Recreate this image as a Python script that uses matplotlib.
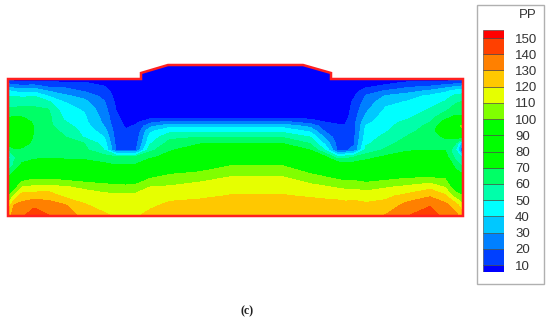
import numpy as np
import matplotlib
matplotlib.use("Agg")
import matplotlib.pyplot as plt
from matplotlib.patches import Polygon, Rectangle

# Section outline, in image pixels
outline = [(8,79),(141,79),(141,73),(168,65),(303,65),(331,73),(331,79),(463,79),(463,216),(8,216)]

# PP readings, one list per column; entries follow grid_y
grid_x = [8,14,22,34,48,64,84,104,116,126,136,150,170,200,235,280,310,325,337,345,354,366,386,408,430,445,455,463]
grid_y = [65,79,83,87,91,96,102,110,118,122,126,131,137,143,150,157,165,176,187,196,205,216]

col_008 = [6,6,18,30,42,50,56,62,70,75,78,80,78,74,58,45,50,68,85,98,112,125]
col_014 = [5,5,15,27,38,50,56,62,72,78,82,84,82,78,68,58,62,75,94,112,130,135]
col_022 = [4,4,12,26,37,48,56,63,71,78,84,86,84,77,67,65,72,90,110,125,133,138]
col_034 = [4,4,14,27,37,50,57,62,66,68,69,70,68,66,65,68,75,95,112,126,137,148]
col_048 = [3,3,13,20,30,40,52,61,63,63,63,64,65,66,67,69,76,95,113,127,133,141]
col_064 = [3,3,12,19,25,32,40,45,49,51,54,58,61,64,66,68,76,93,111,118,131,136]
col_084 = [3,3,11,15,19,27,33,39,42,43,45,47,49,60,63,67,76,90,108,115,121,127]
col_104 = [3,3,7,11,14,17,21,24,27,28,30,35,40,45,50,65,72,88,105,113,116,122]
col_116 = [3,3,4,5,6,7,8,10,12,13,14,15,16,17,20,62,70,85,104,112,116,119]
col_126 = [3,3,3,3,3,4,5,6,7,8,9,11,13,15,19,61,71,86,103,112,116,118]
col_136 = [3,3,3,3,3,4,5,5,6,8,11,12,14,16,20,62,71,87,104,113,117,119]
col_150 = [3,3,3,3,3,4,5,6,8,17,27,38,44,48,57,68,79,97,110,116,118,123]
col_170 = [2,3,3,3,3,4,5,7,10,23,37,47,57,64,69,74,88,102,111,117,122,126]
col_200 = [2,3,3,3,3,4,5,7,10,23,37,48,60,69,76,83,92,105,114,118,124,127]
col_235 = [2,3,3,3,3,4,5,7,10,23,37,48,60,70,80,90,100,110,116,121,125,128]
col_280 = [2,3,3,3,3,4,5,7,10,23,37,48,60,70,80,90,100,110,116,121,125,128]
col_310 = [2,3,3,3,3,4,5,6,8,15,27,38,50,59,70,80,89,103,113,119,125,127]
col_325 = [3,3,3,3,3,4,5,6,7,10,14,19,28,37,50,72,86,99,111,118,124,127]
col_337 = [3,3,3,3,3,4,4,5,6,9,11,13,15,17,19,55,80,96,109,117,124,127]
col_345 = [3,3,3,3,3,4,4,5,6,9,11,13,15,17,19,55,75,94,108,116,123,127]
col_354 = [3,3,3,4,6,9,12,14,16,17,17,17,18,19,22,60,76,94,108,116,124,127]
col_366 = [3,3,5,9,15,21,24,28,33,37,41,43,45,48,53,66,77,92,106,115,122,127]
col_386 = [3,3,8,13,21,31,37,42,46,47,48,49,53,56,62,72,81,94,109,118,123,131]
col_408 = [5,5,12,19,26,36,41,45,49,52,54,57,61,65,69,75,85,97,112,123,134,140]
col_430 = [4,4,13,22,32,42,46,51,57,60,63,65,66,67,70,76,84,97,117,129,139,146]
col_445 = [4,4,15,27,38,45,51,58,68,73,78,80,71,66,70,75,85,97,109,122,133,137]
col_455 = [5,5,17,31,43,52,58,65,73,77,80,80,74,62,52,58,66,78,93,106,125,134]
col_463 = [6,6,20,34,45,54,61,66,72,76,112,80,70,32,15,48,58,72,88,100,112,125]

columns = [col_008,col_014,col_022,col_034,col_048,col_064,col_084,col_104,col_116,col_126,
           col_136,col_150,col_170,col_200,col_235,col_280,col_310,col_325,col_337,col_345,
           col_354,col_366,col_386,col_408,col_430,col_445,col_455,col_463]

# Colour bar
levels = [0,10,20,30,40,50,60,70,80,90,100,110,120,130,140,150,155]
band_colors = ["#0000ff","#0040ff","#0080ff","#00c8ff","#00ffff","#00ffaa","#00ff66","#00ff00",
               "#00ff00","#00ff00","#80ff00","#e6ff00","#ffc800","#ff8000","#ff4000","#ff0000"]
tick_levels = [10,20,30,40,50,60,70,80,90,100,110,120,130,140,150]

plt.rcParams["font.family"] = ["Liberation Sans", "DejaVu Sans"]
fig = plt.figure(figsize=(5.5, 3.2), dpi=100)
ax = fig.add_axes([0, 0, 1, 1])
ax.set_xlim(0, 550); ax.set_ylim(320, 0); ax.axis("off")

pp = np.array(columns, dtype=float).T
cs = ax.contourf(grid_x, grid_y, pp, levels=levels[:-1] + [200], colors=band_colors)
clip = Polygon(outline, closed=True, transform=ax.transData, fill=False)
cs.set_clip_path(clip)
ax.add_patch(Polygon(outline, closed=True, fill=False, edgecolor="#ff2020", linewidth=1.8, joinstyle="miter"))

# Legend frame
ax.add_patch(Rectangle((477, 4.5), 67, 279.5, facecolor="white", edgecolor="#b0b0b0", linewidth=1.0))
ax.text(537, 15.5, "PP", ha="right", va="center", fontsize=9.5, color="#333333")

# y pixels: level 10 at 265, level 150 at 38
y_of = lambda v: 265 - (v - 10) * 1.6214
top, bot = y_of(levels[-1]), y_of(levels[0] + 5.5)
cax = fig.add_axes([483/550, 1 - bot/320, 21/550, (bot - top)/320])
cax.set_xlim(0, 1); cax.set_ylim(5.5, levels[-1])
lows = np.array(levels[:-1], dtype=float); highs = np.array(levels[1:], dtype=float)
cax.bar([0.5]*len(lows), highs - lows, bottom=lows, width=1, color=band_colors,
        edgecolor="#404040", linewidth=0.4)
cax.set_xticks([])
cax.yaxis.tick_right()
cax.set_yticks(tick_levels, [str(t) for t in tick_levels])
cax.tick_params(axis="y", length=0, pad=8, labelsize=9.5, labelcolor="#333333")
for s in cax.spines.values():
    s.set_visible(False)

ax.text(247, 311.5, "(c)", ha="center", va="center", fontsize=8.5,
        fontweight="bold", family=["Liberation Serif", "DejaVu Serif"], color="#222222")

fig.savefig("out.png", dpi=100)
